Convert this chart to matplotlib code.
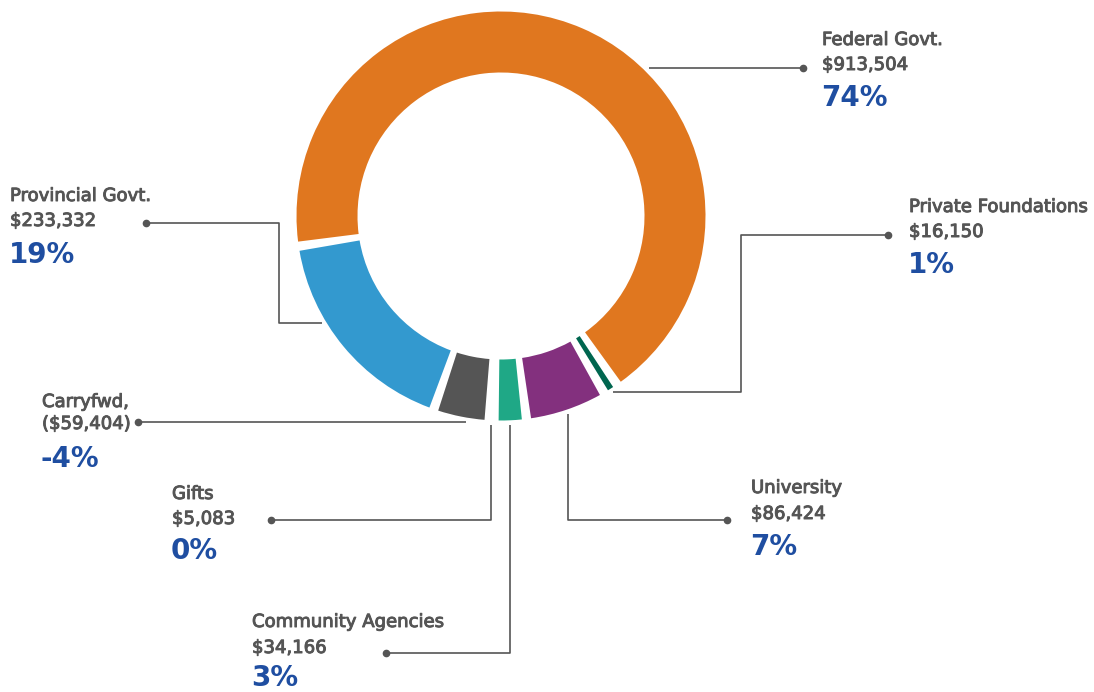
import numpy as np
import matplotlib.pyplot as plt
import matplotlib.patheffects as pe

W, H = 1094, 692

# funding sources, clockwise from the top-left of the ring
sources = ['Federal Govt.', 'Private Foundations', 'University', 'Community Agencies',
           'Gifts', 'Carryfwd,', 'Provincial Govt.']
amounts = [913504, 16150, 86424, 34166, 5083, -59404, 233332]
amount_labels = ['$913,504', '$16,150', '$86,424', '$34,166', '$5,083', '($59,404)', '$233,332']
pct_labels = ['74%', '1%', '7%', '3%', '0%', '-4%', '19%']
colors = ['#E0771F', '#00664F', '#83307E', '#1FA886', '#9E9E9E', '#555555', '#3399CF']

# label blocks: left x, baselines of the three lines, dot position (pixels from top-left)
label_x = [822, 909, 751, 252, 172, 42, 10]
baselines = [(45, 70, 106), (212, 237, 273), (493, 519, 555), (627, 653, 686),
             (499, 524, 559), (407, 429, 467), (201, 226, 263)]
dots = [(803, 68), (888, 235), (727, 520), (386, 653), (271, 520), (138, 422), (146, 223)]
routes = ['h', 'hvh', 'hv', 'hv', 'hv', 'h', 'hvh']
elbow_x = [None, 741, None, None, None, None, 279]
anchor_frac = [0.5, 0.5, 0.5, 0.5, 0.5, 0.5, 0.36]

cx, cy = 501, 216
r_out, ring_w = 204.5, 61
gap = 2.6          # degrees of white between wedges
r_lead = 209       # where leader lines stop


def Y(py):
    return H - py


fig = plt.figure(figsize=(W / 100, H / 100), dpi=100)
ax = fig.add_axes([0, 0, 1, 1])

wedges, _ = ax.pie(np.abs(amounts), colors=colors, startangle=188.5, counterclock=False,
                   radius=r_out, center=(cx, Y(cy)),
                   wedgeprops=dict(width=ring_w, linewidth=0))

anchors = []
for w, f in zip(wedges, anchor_frac):
    t1, t2 = w.theta1, w.theta2
    ang = np.deg2rad(t1 + f * (t2 - t1))
    anchors.append((cx + r_lead * np.cos(ang), cy - r_lead * np.sin(ang), np.cos(ang)))
    a, b = t1 + gap / 2, t2 - gap / 2
    if b <= a:
        w.set_visible(False)
    else:
        w.set_theta1(a)
        w.set_theta2(b)

ax.set_xlim(0, W)
ax.set_ylim(0, H)
ax.set_aspect('equal')
ax.axis('off')

gray = '#555555'
heavy = [pe.withStroke(linewidth=0.7, foreground=gray)]
line_kw = dict(color=gray, lw=1.2, solid_capstyle='butt')
for i in range(len(sources)):
    dx, dy = dots[i]
    ax_, ay, side = anchors[i]
    if routes[i] == 'h':
        hx = cx + np.sign(side) * np.sqrt(r_lead ** 2 - (dy - cy) ** 2)
        xs, ys = [dx, hx], [dy, dy]
    elif routes[i] == 'hv':
        xs, ys = [dx, ax_, ax_], [dy, dy, ay]
    else:
        ex = elbow_x[i]
        xs, ys = [dx, ex, ex, ax_], [dy, dy, ay, ay]
    ax.plot(xs, [Y(v) for v in ys], **line_kw)
    ax.plot(dx, Y(dy), 'o', color=gray, ms=4.5)

    b1, b2, b3 = baselines[i]
    x = label_x[i]
    ax.text(x, Y(b1), sources[i], ha='left', va='baseline', fontsize=13, color=gray,
            path_effects=heavy)
    ax.text(x, Y(b2), amount_labels[i], ha='left', va='baseline', fontsize=13, color=gray,
            path_effects=heavy)
    ax.text(x - 1, Y(b3), pct_labels[i], ha='left', va='baseline', fontsize=20,
            fontweight='bold', color='#1F4EA1')

fig.savefig('out.png', dpi=100)
